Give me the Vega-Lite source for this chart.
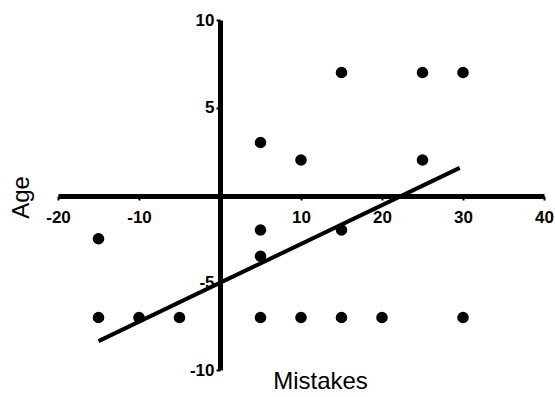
{
  "$schema": "https://vega.github.io/schema/vega-lite/v6.json",
  "autosize": {"type": "none"},
  "width": 486,
  "height": 350,
  "padding": {"left": 58, "top": 20, "right": 11, "bottom": 27},
  "background": "white",
  "config": {"view": {"stroke": null}},
  "datasets": {
    "points": [
      {"Mistakes": 15, "Age": 7},
      {"Mistakes": 25, "Age": 7},
      {"Mistakes": 30, "Age": 7},
      {"Mistakes": 5, "Age": 3},
      {"Mistakes": 10, "Age": 2},
      {"Mistakes": 25, "Age": 2},
      {"Mistakes": -15, "Age": -2.5},
      {"Mistakes": 5, "Age": -2},
      {"Mistakes": 15, "Age": -2},
      {"Mistakes": 5, "Age": -3.5},
      {"Mistakes": -15, "Age": -7},
      {"Mistakes": -10, "Age": -7},
      {"Mistakes": -5, "Age": -7},
      {"Mistakes": 5, "Age": -7},
      {"Mistakes": 10, "Age": -7},
      {"Mistakes": 15, "Age": -7},
      {"Mistakes": 20, "Age": -7},
      {"Mistakes": 30, "Age": -7}
    ],
    "fit": [
      {"Mistakes": -15, "Age": -8.35},
      {"Mistakes": 29.6, "Age": 1.55}
    ]
  },
  "layer": [
    {
      "data": {"name": "fit"},
      "mark": {"type": "line", "color": "black", "strokeWidth": 4},
      "encoding": {
        "x": {
          "field": "Mistakes", "type": "quantitative",
          "scale": {"domain": [-20, 40], "nice": false, "zero": false},
          "axis": {
            "title": "Mistakes",
            "orient": "bottom",
            "offset": -174,
            "values": [-20, -10, 0, 10, 20, 30, 40],
            "labelExpr": "datum.value == 0 ? '' : '' + datum.value",
            "grid": false,
            "domainColor": "black",
            "domainWidth": 5,
            "tickColor": "black",
            "tickWidth": 2,
            "tickSize": 4,
            "labelFont": "Liberation Sans",
            "labelFontWeight": "bold",
            "labelFontSize": 17,
            "labelColor": "black",
            "labelPadding": 9,
            "labelFlush": false,
            "labelOverlap": false,
            "titleFont": "Liberation Sans",
            "titleFontWeight": "normal",
            "titleFontSize": 24,
            "titleColor": "black",
            "titleAlign": "center",
            "titleBaseline": "alphabetic",
            "titleX": 262,
            "titleY": 192
          }
        },
        "y": {
          "field": "Age", "type": "quantitative",
          "scale": {"domain": [-10, 10], "nice": false, "zero": false},
          "axis": {
            "title": "Age",
            "orient": "left",
            "offset": -162,
            "values": [-10, -5, 0, 5, 10],
            "labelExpr": "datum.value == 0 ? '' : '' + datum.value",
            "grid": false,
            "domainColor": "black",
            "domainWidth": 5,
            "tickColor": "black",
            "tickWidth": 2,
            "tickSize": 4,
            "labelFont": "Liberation Sans",
            "labelFontWeight": "bold",
            "labelFontSize": 17,
            "labelColor": "black",
            "labelPadding": 2,
            "labelFlush": false,
            "labelOverlap": false,
            "titleFont": "Liberation Sans",
            "titleFontWeight": "normal",
            "titleFontSize": 24,
            "titleColor": "black",
            "titleAngle": -90,
            "titleAlign": "center",
            "titleBaseline": "alphabetic",
            "titleX": -192,
            "titleY": 177
          }
        }
      }
    },
    {
      "data": {"name": "points"},
      "mark": {"type": "circle", "color": "black", "opacity": 1, "size": 135},
      "encoding": {
        "x": {"field": "Mistakes", "type": "quantitative"},
        "y": {"field": "Age", "type": "quantitative"}
      }
    }
  ]
}
